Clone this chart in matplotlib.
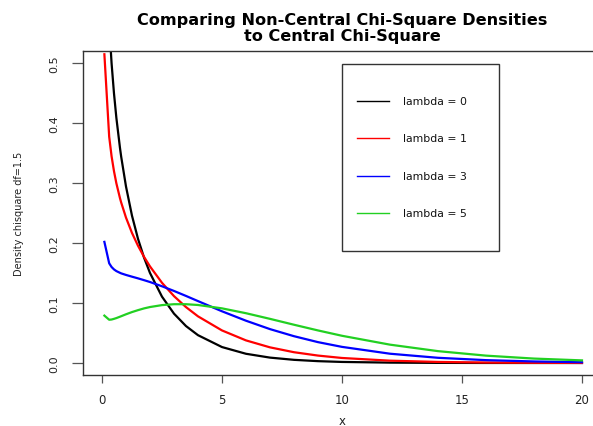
import matplotlib
matplotlib.use("Agg")
import matplotlib.pyplot as plt
from matplotlib.patches import Rectangle

# values (density, chisquare df=1.5)
x_vals = [0.1, 0.3, 0.4, 0.5, 0.6, 0.75, 0.8, 1, 1.25, 1.5, 1.75, 2, 2.5, 3,
          3.5, 4, 5, 6, 7, 8, 9, 10, 12, 14, 16, 18, 20]
dens_lambda0 = [0.8208, 0.5643, 0.4995, 0.4494, 0.4084, 0.3584, 0.3439, 0.2943,
                0.2456, 0.2071, 0.1759, 0.1501, 0.1106, 0.0823, 0.0616, 0.0464,
                0.0266, 0.0154, 0.0090, 0.0053, 0.0031, 0.0018, 0.00065,
                0.00023, 0.00008, 0.00003, 0.00001]
dens_lambda1 = [0.5146, 0.3772, 0.3445, 0.3197, 0.2994, 0.2747, 0.2675, 0.2424,
                0.2168, 0.1955, 0.1771, 0.1610, 0.1337, 0.1115, 0.0932, 0.0778,
                0.0543, 0.0377, 0.0261, 0.0180, 0.0124, 0.0084, 0.0039, 0.0018,
                0.0008, 0.00036, 0.00016]
dens_lambda3 = [0.2019, 0.1662, 0.1600, 0.1560, 0.1532, 0.1503, 0.1494, 0.1468,
                0.1439, 0.1411, 0.1381, 0.1350, 0.1279, 0.1201, 0.1118, 0.1032,
                0.0862, 0.0705, 0.0565, 0.0447, 0.0348, 0.0269, 0.0155, 0.0087,
                0.0048, 0.0026, 0.0013]
dens_lambda5 = [0.0790, 0.0721, 0.0725, 0.0736, 0.0749, 0.0772, 0.0780, 0.0812,
                0.0849, 0.0881, 0.0910, 0.0933, 0.0965, 0.0980, 0.0980, 0.0967,
                0.0911, 0.0830, 0.0736, 0.0638, 0.0543, 0.0454, 0.0306, 0.0198,
                0.0123, 0.0074, 0.0044]

series = [dens_lambda0, dens_lambda1, dens_lambda3, dens_lambda5]
labels = ["lambda = 0", "lambda = 1", "lambda = 3", "lambda = 5"]
colors = ["#000000", "#ff0000", "#0000ff", "#22d022"]

x_ticks = [0, 5, 10, 15, 20]
y_ticks = [0.0, 0.1, 0.2, 0.3, 0.4, 0.5]

plt.rcParams["font.family"] = "DejaVu Sans"

fig = plt.figure(figsize=(5.93, 4.27), dpi=100)
# plot region runs past the right edge, like the cropped reference
ax = fig.add_axes([0.1396, 0.1194, 0.8742, 0.7588])

for ys, col in zip(series, colors):
    ax.plot(x_vals, ys, color=col, lw=1.6, solid_joinstyle="round")

ax.set_xlim(-0.8, 20.8)
ax.set_ylim(-0.02, 0.52)

ax.set_xticks(x_ticks)
ax.set_xticklabels([str(t) for t in x_ticks])
ax.set_yticks(y_ticks)
ax.set_yticklabels([f"{t:.1f}" for t in y_ticks], rotation=90, va="center")

ax.tick_params(axis="x", length=6, width=0.9, color="#555555", labelsize=8.5,
               pad=7, labelcolor="#222222")
ax.tick_params(axis="y", length=8, width=0.9, color="#555555", labelsize=8,
               pad=9, labelcolor="#222222")

for side in ["left", "bottom", "top", "right"]:
    ax.spines[side].set_color("#333333")
    ax.spines[side].set_linewidth(1.0)

ax.set_xlabel("x", fontsize=8.5, labelpad=6, color="#222222")
ax.set_ylabel("Density chisquare df=1.5", fontsize=7, labelpad=18,
              color="#222222")
ax.set_title("Comparing Non-Central Chi-Square Densities\nto Central Chi-Square",
             fontsize=11.6, fontweight="bold", pad=8, linespacing=1.05)

# legend drawn by hand, R style: big box with spaced rows
leg_left, leg_right = 0.500, 0.803
leg_top, leg_bottom = 0.960, 0.383
ax.add_patch(Rectangle((leg_left, leg_bottom), leg_right - leg_left,
                       leg_top - leg_bottom, transform=ax.transAxes,
                       fill=False, edgecolor="#333333", lw=1.0))
row_top = 0.846
row_step = 0.1153
for i, (lab, col) in enumerate(zip(labels, colors)):
    yy = row_top - i * row_step
    ax.plot([0.529, 0.591], [yy, yy], color=col, lw=1.0,
            transform=ax.transAxes)
    ax.text(0.618, yy, lab, transform=ax.transAxes, fontsize=7.8,
            va="center", ha="left", color="#111111")

fig.savefig("out.png", dpi=100)
